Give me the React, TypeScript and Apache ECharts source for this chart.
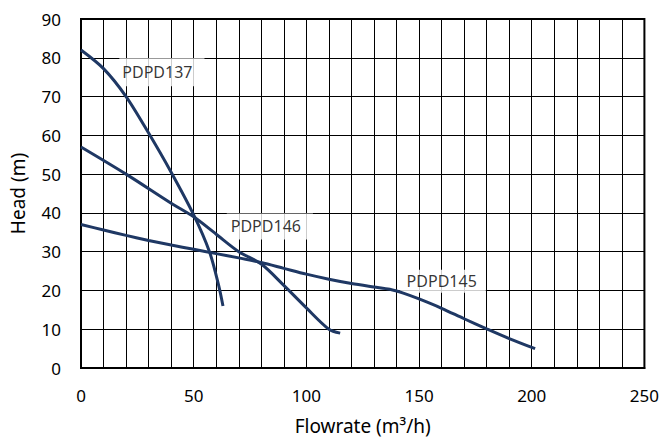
import React, { useEffect, useRef } from "react";
import * as echarts from "echarts";

const xTicks = [0, 50, 100, 150, 200, 250];
const yTicks = [0, 10, 20, 30, 40, 50, 60, 70, 80, 90];

const pdpd137: [number, number][] = [
  [0, 82], [10, 77.2], [20, 70], [30, 60.6], [40, 50.5], [50, 39.5],
  [57, 30], [61, 21.5], [63, 16],
];
const pdpd146: [number, number][] = [
  [0, 57], [20, 50], [40, 42.5], [50, 39], [60, 34.5], [70, 30], [80, 26.8],
  [90, 21.3], [100, 15.5], [110, 10], [115, 9],
];
const pdpd145: [number, number][] = [
  [0, 37], [10, 35.6], [20, 34.2], [30, 32.9], [40, 31.7], [50, 30.6], [60, 29.5],
  [70, 28.4], [80, 27.2], [90, 25.7], [100, 24.2], [110, 22.9], [120, 21.8],
  [130, 20.9], [137, 20.3], [143, 19.3], [150, 17.8], [160, 15.4], [170, 12.7],
  [180, 10.1], [190, 7.6], [201.5, 5],
];

const seriesNames = ["PDPD137", "PDPD146", "PDPD145"];
const labelCoords: [number, number][] = [
  [35.9, 76.3],
  [83.8, 36.5],
  [160.5, 22.4],
];

const FONT = "Noto Sans";
const LINE_COLOR = "#1F3864";

export default function App() {
  const ref = useRef<HTMLDivElement>(null);
  useEffect(() => {
    if (!ref.current) return;
    document.body.style.margin = "0";
    document.body.style.overflow = "hidden";
    const chart = echarts.init(ref.current, undefined, { renderer: "svg" });
    const curves = [pdpd137, pdpd146, pdpd145];
    const paddings = [
      [4, 12, 8, 3],
      [5, 12, 5, 4],
      [4, 9, 3, 7],
    ];
    chart.setOption({
      animation: false,
      backgroundColor: "#fff",
      textStyle: { fontFamily: FONT },
      grid: {
        left: 81,
        right: 17,
        top: 19,
        bottom: 71,
        show: true,
        borderColor: "#000",
        borderWidth: 2,
        backgroundColor: "transparent",
      },
      xAxis: {
        type: "value",
        min: xTicks[0],
        max: xTicks[xTicks.length - 1],
        interval: 50,
        name: "Flowrate (m³/h)",
        nameLocation: "middle",
        nameGap: 48,
        nameTextStyle: { fontFamily: FONT, fontSize: 19, color: "#000" },
        axisLine: { show: true, lineStyle: { color: "#000", width: 2 } },
        axisTick: { show: false },
        axisLabel: { fontFamily: FONT, fontSize: 17, color: "#000", margin: 19, showMaxLabel: true },
        splitLine: { show: true, lineStyle: { color: "#000", width: 1 } },
        minorTick: { show: false, splitNumber: 5 },
        minorSplitLine: { show: true, lineStyle: { color: "#000", width: 1 } },
      },
      yAxis: {
        type: "value",
        min: yTicks[0],
        max: yTicks[yTicks.length - 1],
        interval: 10,
        name: "Head (m)",
        nameLocation: "middle",
        nameGap: 54,
        nameTextStyle: { fontFamily: FONT, fontSize: 19, color: "#000" },
        axisLine: { show: true, lineStyle: { color: "#000", width: 2 } },
        axisTick: { show: false },
        axisLabel: { fontFamily: FONT, fontSize: 17, color: "#000", margin: 20 },
        splitLine: { show: true, lineStyle: { color: "#000", width: 1 } },
      },
      series: [
        {
          type: "scatter",
          z: 1,
          symbolSize: 1,
          itemStyle: { color: "transparent" },
          silent: true,
          data: seriesNames.map((n, i) => ({
            name: n,
            value: labelCoords[i],
            label: { padding: paddings[i] },
          })),
          label: {
            show: true,
            position: "inside",
            formatter: "{b}",
            fontFamily: FONT,
            fontSize: 16,
            color: "#000",
            backgroundColor: "#fff",
          },
        },
        ...curves.map((d, i) => ({
          type: "line",
          name: seriesNames[i],
          z: 3,
          data: d,
          smooth: 0.3,
          showSymbol: false,
          symbol: "none",
          lineStyle: { color: LINE_COLOR, width: 3 },
        })),
      ],
    });
    return () => chart.dispose();
  }, []);
  return <div ref={ref} style={{ width: 662, height: 440 }} />;
}
